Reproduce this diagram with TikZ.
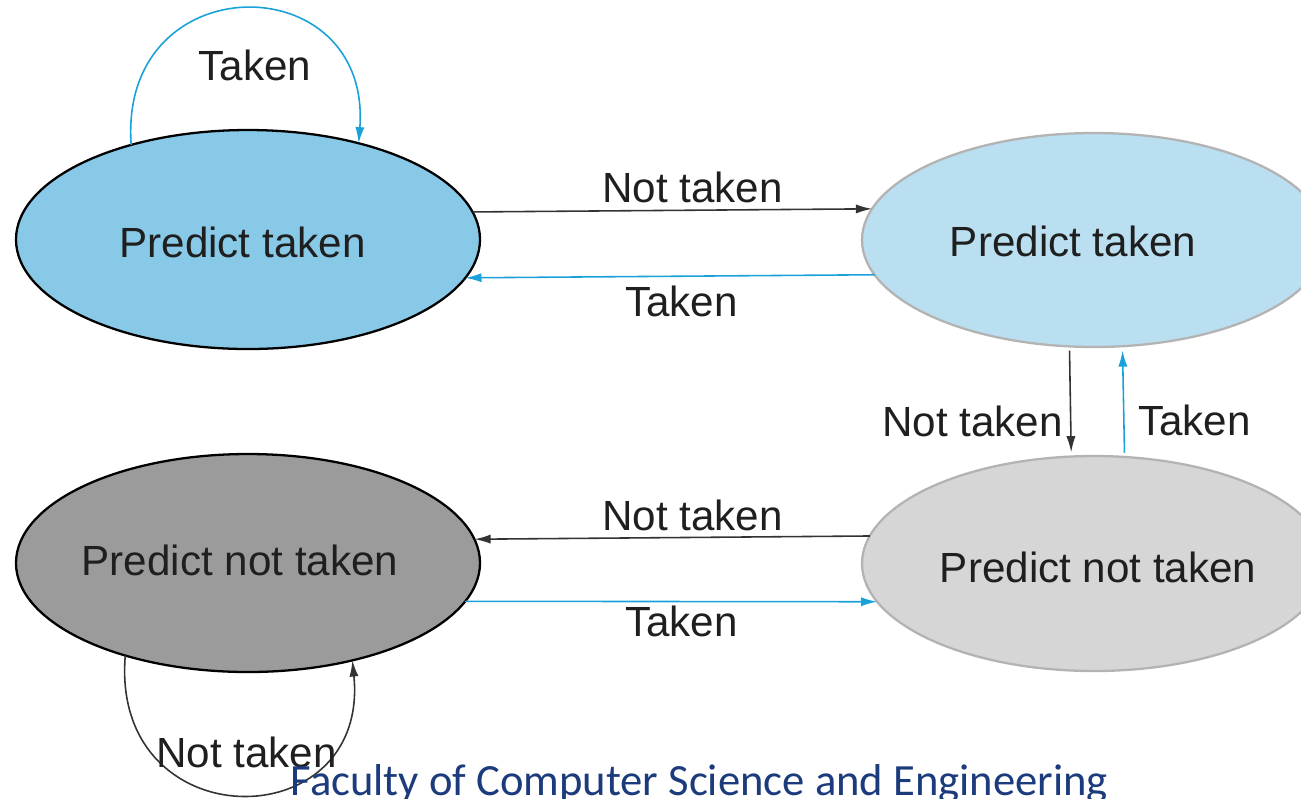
\documentclass[tikz,border=0pt]{standalone}
\usepackage{fontspec}
\setmainfont{Liberation Sans}
\newfontfamily\footfont{Carlito}
\usetikzlibrary{shapes.geometric,arrows.meta}
\definecolor{strongblue}{HTML}{87C9E7}
\definecolor{weakblue}{HTML}{BADFF0}
\definecolor{stronggray}{HTML}{9A9B9A}
\definecolor{weakgray}{HTML}{D6D6D6}
\definecolor{rimgray}{HTML}{B3B3B3}
\definecolor{takenblue}{HTML}{1BA1DA}
\definecolor{ntblack}{HTML}{333333}
\definecolor{facultyblue}{HTML}{1C3B7C}

\begin{document}
\begin{tikzpicture}[x=0.1mm,y=-0.1mm,
  state/.style={ellipse,minimum width=46.4mm,inner sep=0pt,outer sep=0pt,line width=0.65pt},
  statetext/.style={font=\fontsize{12}{14}\selectfont,text=black!88,inner sep=0pt},
  lbl/.style={anchor=base,font=\fontsize{12}{14}\selectfont,text=black!88,inner sep=0pt},
  taken/.style={->,draw=takenblue,line width=0.45pt},
  nottaken/.style={->,draw=ntblack,line width=0.45pt},
  >={Latex[length=4.6pt,width=2.6pt]}]
\useasboundingbox (0,0) rectangle (1301,798);
\clip (0,0) rectangle (1301,798);

% the four states
\node[state,minimum height=21.9mm,fill=strongblue,draw=black,
  label={[statetext,xshift=-0.55mm,yshift=-0.3mm]center:Predict taken}] (ptS) at (248,239.5) {};
\node[state,minimum height=21.4mm,fill=weakblue,draw=rimgray,
  label={[statetext,xshift=-2.1mm,yshift=-0.17mm]center:Predict taken}] (ptW) at (1094,240) {};
\node[state,minimum height=21.5mm,fill=weakgray,draw=rimgray,
  label={[statetext,xshift=0.42mm,yshift=-0.42mm]center:Predict not taken}] (pnW) at (1094,563.5) {};
\node[state,minimum height=21.8mm,fill=stronggray,draw=black,
  label={[statetext,xshift=-0.8mm,yshift=0.3mm]center:Predict not taken}] (pnS) at (248,563) {};

% transitions
\draw[taken] (ptS.141) .. controls (118,-36) and (372,-36) .. (ptS.41);
\draw[nottaken] (ptS.7.4) -- (ptW.172.6);
\draw[taken] (ptW.189.6) -- (ptS.350.0);
\draw[nottaken,shorten <=1.2pt,shorten >=1.2pt] (ptW.257.8) -- (pnW.102.1);
\draw[taken,shorten <=1.2pt,shorten >=1.2pt] (pnW.74.3) -- (ptW.285.8);
\draw[nottaken] (pnW.173.3) -- (pnS.6.7);
\draw[taken] (pnS.350.1) -- (pnW.190.1);
\draw[nottaken] (pnS.217.7) .. controls (110,840) and (370,840) .. (pnS.317);

% labels
\node[lbl] (tkLoop) at (255,80) {Taken};
\node[lbl] (ntTop) at (692.5,202) {Not taken};
\node[lbl] (tkTop) at (681.5,316.5) {Taken};
\node[lbl] (ntDown) at (972.5,436) {Not taken};
\node[lbl] (tkUp) at (1194.5,435) {Taken};
\node[lbl] (ntBot) at (692.5,530) {Not taken};
\node[lbl] (tkBot) at (681.5,636) {Taken};
\node[lbl] (ntLoop) at (246.5,767) {Not taken};

\node[anchor=base west,inner sep=0pt,font=\footfont\fontsize{12.7}{15}\selectfont,
  text=facultyblue] (faculty) at (290,795) {Faculty of Computer Science and Engineering};
\end{tikzpicture}
\end{document}
